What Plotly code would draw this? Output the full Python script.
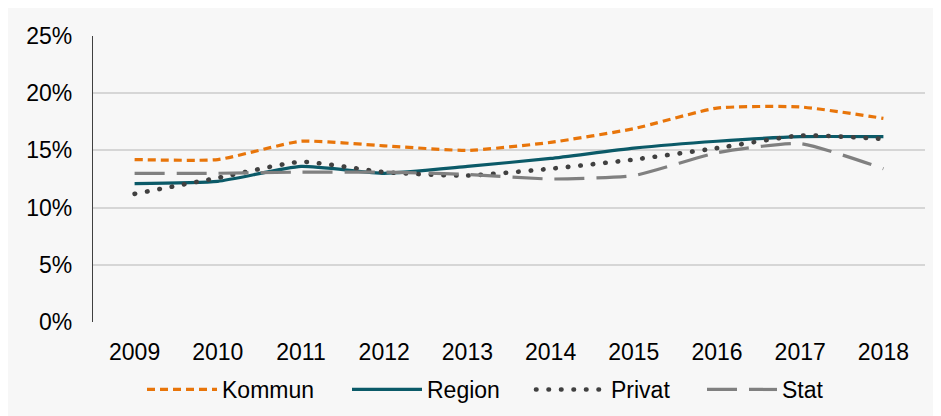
import plotly.graph_objects as go

years = ["2009", "2010", "2011", "2012", "2013", "2014", "2015", "2016", "2017", "2018"]
kommun = [14.2, 14.2, 15.8, 15.4, 15.0, 15.7, 16.9, 18.7, 18.8, 17.8]
region = [12.1, 12.3, 13.6, 13.0, 13.6, 14.3, 15.2, 15.8, 16.2, 16.2]
privat = [11.2, 12.6, 14.0, 13.1, 12.8, 13.4, 14.2, 15.2, 16.3, 16.0]
stat = [13.0, 13.0, 13.1, 13.1, 12.9, 12.5, 12.8, 14.8, 15.6, 13.4]
y_ticks = [0, 5, 10, 15, 20, 25]
y_labels = ["0%", "5%", "10%", "15%", "20%", "25%"]

FONT = "Liberation Sans, Arial, sans-serif"
FS = 23
SM = 0.5
L, R, T, B = 85, 24, 28, 102
PW, PH = 941 - L - R, 416 - T - B


def px_x(p):
    return (p - L) / PW


def px_y(p):
    return 1 - (p - T) / PH


fig = go.Figure()
fig.add_trace(go.Scatter(x=years, y=kommun, name="Kommun", mode="lines", legend="legend",
                         line=dict(color="#E8750A", width=3.2, dash="8px,5px", shape="spline", smoothing=SM)))
fig.add_trace(go.Scatter(x=years, y=region, name="Region", mode="lines", legend="legend2",
                         line=dict(color="#0B5A68", width=3.2, shape="spline", smoothing=SM)))
fig.add_trace(go.Scatter(x=years, y=privat, name="Privat", mode="lines", legend="legend3",
                         line=dict(color="#404040", width=4.6, dash="0.5px,12px", shape="spline", smoothing=SM)))
fig.add_trace(go.Scatter(x=years, y=stat, name="Stat", mode="lines", legend="legend4",
                         line=dict(color="#808080", width=3.2, dash="30px,12px", shape="spline", smoothing=SM)))

leg_common = dict(orientation="h", yanchor="top", y=px_y(360), xanchor="left",
                  font=dict(family=FONT, size=FS, color="#000000"),
                  bgcolor="rgba(0,0,0,0)", itemwidth=70)

fig.update_layout(
    width=941, height=416,
    margin=dict(l=L, r=R, t=T, b=B, autoexpand=False),
    paper_bgcolor="#F7F7F7",
    plot_bgcolor="#F7F7F7",
    font=dict(family=FONT, size=FS, color="#000000"),
    showlegend=True,
    legend=dict(x=px_x(134), **leg_common),
    legend2=dict(x=px_x(339), **leg_common),
    legend3=dict(x=px_x(523), **leg_common),
    legend4=dict(x=px_x(694), **leg_common),
)
fig.update_xaxes(type="category", range=[-0.5, 9.5], showgrid=False, zeroline=False,
                 showline=False, ticks="", ticklabelstandoff=14, automargin=False,
                 tickfont=dict(family=FONT, size=FS, color="#000000"))
fig.update_yaxes(range=[0, 25], tickvals=y_ticks, ticktext=y_labels, showgrid=True,
                 gridcolor="#D6D6D6", gridwidth=1.5, zeroline=False,
                 showline=True, linecolor="#404040", linewidth=1.2,
                 ticks="", ticklabelstandoff=15, automargin=False,
                 tickfont=dict(family=FONT, size=FS, color="#000000"))

js = """
var gd = document.getElementById('{plot_id}');
function roundDots() {
  document.querySelectorAll('path.js-line').forEach(function(p) {
    if (p.style.stroke === 'rgb(64, 64, 64)') { p.style.strokeLinecap = 'round'; }
  });
}
roundDots();
if (gd && gd.on) { gd.on('plotly_afterplot', roundDots); }
"""
fig.write_html("out.html", post_script=js)
